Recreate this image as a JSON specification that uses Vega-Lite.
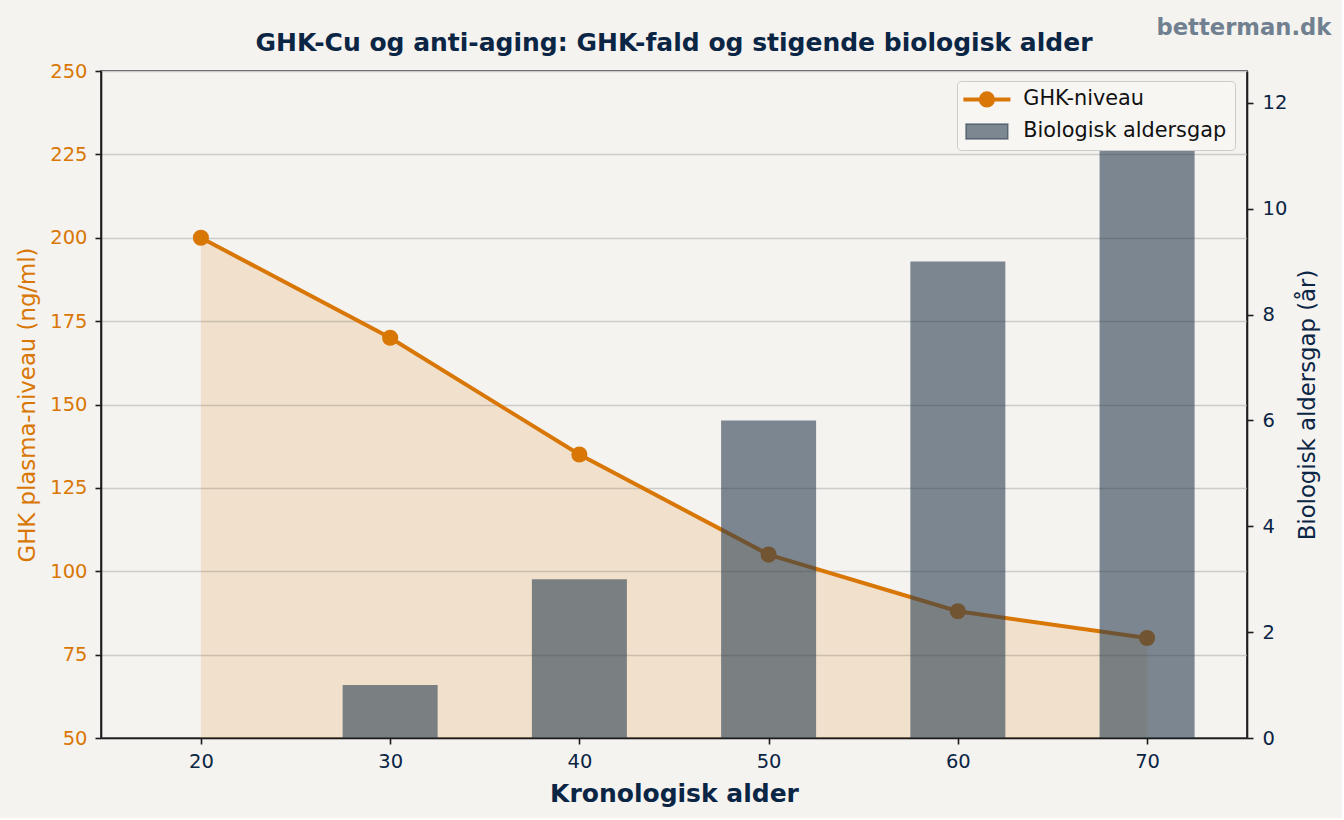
{
  "$schema": "https://vega.github.io/schema/vega-lite/v6.json",
  "background": "#f5f3ef",
  "padding": {"left": 15, "top": 16, "right": 10, "bottom": 10},
  "title": {
    "text": "betterman.dk",
    "anchor": "end",
    "frame": "bounds",
    "font": "DejaVu Sans",
    "fontSize": 22.7,
    "fontWeight": "bold",
    "color": "#708090",
    "offset": -9,
    "dx": 11
  },
  "config": {
    "font": "DejaVu Sans",
    "view": {"stroke": "#1c1c1c", "strokeWidth": 1.6},
    "axis": {
      "domainColor": "#1c1c1c",
      "domainWidth": 1.6,
      "tickColor": "#1c1c1c",
      "tickWidth": 1.6,
      "tickSize": 6,
      "labelFont": "DejaVu Sans",
      "labelFontSize": 19.5,
      "labelColor": "#0b2545",
      "labelPadding": 8,
      "titleFont": "DejaVu Sans",
      "titleFontSize": 22.8,
      "titleFontWeight": "normal",
      "titleColor": "#0b2545",
      "titlePadding": 10,
      "gridColor": "#cbcbcb",
      "gridWidth": 1.3
    }
  },
  "vconcat": [
    {
      "width": 1146,
      "height": 667,
      "title": {
        "text": "GHK-Cu og anti-aging: GHK-fald og stigende biologisk alder",
        "anchor": "middle",
        "font": "DejaVu Sans",
        "fontSize": 25,
        "fontWeight": "bold",
        "color": "#0b2545",
        "offset": 5
      },
      "data": {
        "values": [
          {"alder": 20, "ghk": 200, "gap": 0},
          {"alder": 30, "ghk": 170, "gap": 1},
          {"alder": 40, "ghk": 135, "gap": 3},
          {"alder": 50, "ghk": 105, "gap": 6},
          {"alder": 60, "ghk": 88, "gap": 9},
          {"alder": 70, "ghk": 80, "gap": 12}
        ]
      },
      "encoding": {
        "x": {
          "field": "alder",
          "type": "quantitative",
          "scale": {"domain": [14.72, 75.28], "nice": false, "zero": false, "padding": 0},
          "axis": {
            "title": "Kronologisk alder",
            "titleFontSize": 25,
            "titleFontWeight": "bold",
            "titleColor": "#0b2545",
            "labelColor": "#0b2545",
            "titlePadding": 11,
            "values": [20, 30, 40, 50, 60, 70],
            "grid": false
          }
        }
      },
      "layer": [
        {
          "encoding": {
            "y": {
              "field": "ghk",
              "type": "quantitative",
              "scale": {"domain": [50, 250], "nice": false, "zero": false},
              "axis": {
                "title": "GHK plasma-niveau (ng/ml)",
                "orient": "left",
                "values": [50, 75, 100, 125, 150, 175, 200, 225, 250],
                "labelColor": "#d97706",
                "titleColor": "#d97706",
                "grid": true
              }
            }
          },
          "layer": [
            {
              "mark": {"type": "area", "color": "#d97706", "opacity": 0.15},
              "encoding": {"y2": {"datum": 50}}
            },
            {
              "mark": {"type": "line", "strokeWidth": 4},
              "encoding": {
                "color": {
                  "datum": "GHK-niveau",
                  "type": "nominal",
                  "scale": {
                    "domain": ["GHK-niveau", "Biologisk aldersgap"],
                    "range": ["#d97706", "rgba(44,62,80,0.6)"]
                  },
                  "legend": {
                    "title": null,
                    "orient": "none",
                    "legendX": 856,
                    "legendY": 10,
                    "padding": 8,
                    "fillColor": "#f8f6f3",
                    "strokeColor": "#cccccc",
                    "cornerRadius": 4,
                    "labelFont": "DejaVu Sans",
                    "labelFontSize": 20.8,
                    "labelColor": "#111111",
                    "labelLimit": 400,
                    "labelOffset": 26,
                    "symbolOffset": 11.5,
                    "rowPadding": 6,
                    "symbolSize": 2209,
                    "encode": {
                      "symbols": {
                        "update": {
                          "shape": {"signal": "datum.value === 'GHK-niveau' ? 'M-1,0H1M0.26,0A0.26,0.26,0,1,1,-0.26,0A0.26,0.26,0,1,1,0.26,0Z' : 'M-0.89,-0.32H0.89V0.32H-0.89Z'"},
                          "size": {"value": 2209},
                          "strokeWidth": {"signal": "datum.value === 'GHK-niveau' ? 4 : 1.5"}
                        }
                      }
                    }
                  }
                }
              }
            },
            {
              "mark": {"type": "circle", "size": 260, "opacity": 1},
              "encoding": {
                "color": {"datum": "GHK-niveau", "type": "nominal"}
              }
            }
          ]
        },
        {
          "mark": {"type": "bar", "size": 95},
          "encoding": {
            "y": {
              "field": "gap",
              "type": "quantitative",
              "scale": {"domain": [0, 12.6], "nice": false},
              "axis": {
                "title": "Biologisk aldersgap (år)",
                "orient": "right",
                "titleAngle": 270,
                "titleBaseline": "top",
                "values": [0, 2, 4, 6, 8, 10, 12],
                "labelPadding": 9,
                "grid": false
              }
            },
            "color": {"datum": "Biologisk aldersgap", "type": "nominal"}
          }
        }
      ],
      "resolve": {"scale": {"y": "independent"}}
    }
  ]
}
